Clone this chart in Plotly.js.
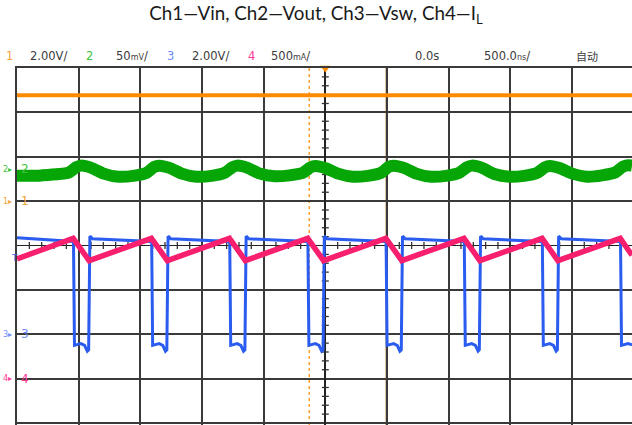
<!DOCTYPE html>
<html><head><meta charset="utf-8">
<script src="https://cdn.plot.ly/plotly-3.0.1.min.js"></script>
<style>html,body{margin:0;padding:0;background:#fff;}#chart{width:632px;height:425px;}</style>
</head><body><div id="chart"></div>
<script>
// ---- channel settings (per division) ----
const chNames   = ['Ch1', 'Ch2', 'Ch3', 'Ch4'];
const chScale   = [2.0, 50, 2.0, 0.5];      // V/div, mV/div, V/div, A/div
const chOffset  = [1.0, 1.72, -2.0, -3.0];  // marker position, divisions
const chColors  = ['#ff8a00', '#06a606', '#2a5cf0', '#f8206e'];
const chLabelColors = ['#f7a33a', '#3cc43c', '#6f8cff', '#ff3d96'];
const headerScales = ['2.00V/', '50<span style="font-size:8px">mV</span>/', '2.00V/', '500<span style="font-size:8px">mA</span>/'];
const timeLabel = '0.0s';
const timebaseLabel = '500.0<span style="font-size:8px">ns</span>/';
const modeLabel = '自动';

// ---- Ch1 Vin (V) ----
const vinT = [-2500, 2487];
const vinV = [4.77, 4.77];

// ---- Ch2 Vout ripple (mV) ----
const voutT = [-2500,-2300,
  -2082,-2022,-1982,-1897,-1797,-1677,-1557,
  -1448,-1388,-1348,-1263,-1163,-1043,-923,
  -815,-755,-715,-630,-530,-410,-290,
  -181,-121,-81,4,104,224,344,
  453,513,553,638,738,858,978,
  1087,1147,1187,1271,1371,1491,1611,
  1720,1780,1820,1904,2004,2124,2244,
  2354,2414,2454,2487];
const voutV = [-7.5,-7.0,
  -4.0,2.0,4.0,1.5,-5.0,-8.5,-7.5,
  -4.0,2.5,4.0,1.5,-5.0,-8.5,-7.5,
  -4.0,2.0,4.0,1.5,-5.0,-8.0,-7.0,
  -4.0,2.0,3.5,1.0,-5.0,-8.5,-7.5,
  -4.0,2.5,4.0,1.5,-5.0,-8.5,-7.5,
  -4.0,2.0,4.0,1.5,-5.5,-8.5,-7.5,
  -4.0,2.0,3.5,1.0,-5.0,-8.5,-7.0,
  -3.5,3.0,4.5,4.0];

// ---- Ch3 Vsw (V) ----
const vswT = [-2500,-2300,
  -2052,-2042,-2034,-2012,-1982,-1952,-1930,-1919,-1909,-1887,
  -1418,-1408,-1400,-1378,-1348,-1318,-1296,-1285,-1275,-1253,
  -785,-775,-767,-745,-715,-685,-663,-652,-642,-620,
  -151,-141,-133,-111,-81,-51,-29,-18,-8,14,
  483,493,501,523,553,583,605,616,626,648,
  1117,1127,1135,1157,1187,1217,1239,1249,1259,1281,
  1750,1760,1768,1790,1820,1850,1872,1882,1892,1914,
  2384,2394,2402,2424,2454,2487];
const vswV = [4.35,4.27,
  4.20,4.18,-0.50,-0.48,-0.42,-0.50,-0.76,-0.70,4.42,4.30,
  4.20,4.18,-0.50,-0.48,-0.42,-0.50,-0.76,-0.70,4.42,4.30,
  4.20,4.18,-0.50,-0.48,-0.42,-0.50,-0.76,-0.70,4.42,4.30,
  4.20,4.18,-0.50,-0.48,-0.42,-0.50,-0.76,-0.70,4.42,4.30,
  4.20,4.18,-0.50,-0.48,-0.42,-0.50,-0.76,-0.70,4.42,4.30,
  4.20,4.18,-0.50,-0.48,-0.42,-0.50,-0.76,-0.70,4.42,4.30,
  4.20,4.18,-0.50,-0.48,-0.42,-0.50,-0.76,-0.70,4.42,4.30,
  4.20,4.18,-0.50,-0.48,-0.42,-0.48];

// ---- Ch4 inductor current IL (A) ----
const ilT = [-2500,-2044,-1915,-1410,-1281,-777,-648,-143,-14,491,620,1125,1253,1758,1886,2392,2487];
const ilV = [1.35,1.58,1.33,1.58,1.33,1.58,1.33,1.58,1.33,1.58,1.33,1.58,1.33,1.58,1.33,1.58,1.39];

// ---- cursors / trigger ----
const cursorT = [-130, 497];
const trigLevelDiv = -1;
const trigMarkerDiv = -0.28;

const toDiv = (vals, ch) => vals.map(v => v / chScale[ch] + chOffset[ch]);

const gridCol = '#3a3a3a';
const traces = [
  {x: vinT, y: toDiv(vinV, 0), mode: 'lines', line: {color: chColors[0], width: 4}, hoverinfo: 'skip'},
  {x: voutT, y: toDiv(voutV, 1), mode: 'lines', line: {color: chColors[1], width: 12, shape: 'spline', smoothing: 0.6}, hoverinfo: 'skip'},
  {x: vswT, y: toDiv(vswV, 2), mode: 'lines', line: {color: chColors[2], width: 3}, hoverinfo: 'skip'},
  {x: ilT, y: toDiv(ilV, 3), mode: 'lines', line: {color: chColors[3], width: 5.5}, hoverinfo: 'skip'}
];

// graticule sub-division ticks on the centre lines (decoration)
const tv = [], th = [];
for (let k = -20; k <= 20; k++) if (k % 5 !== 0) tv.push(k * 0.2);
for (let k = -25; k <= 25; k++) if (k % 5 !== 0) th.push(k * 100);
traces.unshift(
  {x: tv.map(() => 0), y: tv, mode: 'markers', marker: {symbol: 'line-ew', size: 5, line: {color: '#333', width: 1.3}}, hoverinfo: 'skip'},
  {x: th, y: th.map(() => 0), mode: 'markers', marker: {symbol: 'line-ns', size: 5, line: {color: '#333', width: 1.3}}, hoverinfo: 'skip'}
);
traces.push({x: [0], y: [4], mode: 'markers', marker: {symbol: 'triangle-down', size: 9, color: '#ff8a00'}, cliponaxis: false, hoverinfo: 'skip'});

const L = 17, T = 68, W = 632, H = 425;
const px = p => (p - L) / (W - L);
const py = p => (H - p) / (H - T);

const ann = [];
const hdr = (x, text, color, anchor) => ann.push({xref: 'paper', yref: 'paper', x: px(x), y: py(56), text: text, showarrow: false,
  xanchor: anchor || 'left', yanchor: 'middle', font: {family: 'DejaVu Sans', size: 11.5, color: color || '#3c3c3c'}});
hdr(9, '1', chLabelColors[0], 'center');
hdr(28, headerScales[0]);
hdr(89, '2', chLabelColors[1], 'center');
hdr(114, headerScales[1]);
hdr(170, '3', chLabelColors[2], 'center');
hdr(190, headerScales[2]);
hdr(251, '4', chLabelColors[3], 'center');
hdr(269, headerScales[3]);
hdr(413, timeLabel);
hdr(482, timebaseLabel);
ann.push({xref: 'paper', yref: 'paper', x: px(574), y: py(56), text: modeLabel, showarrow: false, xanchor: 'left', yanchor: 'middle',
  font: {family: 'Noto Sans CJK SC', size: 11, color: '#3c3c3c'}});

// channel ground markers on the left
const chMark = (i, label) => {
  ann.push({xref: 'paper', yref: 'y', x: px(1), y: chOffset[i], text: label + '▸', showarrow: false,
    xanchor: 'left', yanchor: 'middle', font: {family: 'DejaVu Sans', size: 8, color: chLabelColors[i]}});
  ann.push({xref: 'paper', yref: 'y', x: px(19), y: chOffset[i], text: label, showarrow: false,
    xanchor: 'left', yanchor: 'middle', font: {family: 'DejaVu Sans', size: 12, color: chLabelColors[i]}});
};
chMark(1, '2'); chMark(0, '1'); chMark(2, '3'); chMark(3, '4');
ann.push({xref: 'paper', yref: 'y', x: px(9), y: trigMarkerDiv, text: 'T', showarrow: false, xanchor: 'left', yanchor: 'middle',
  font: {family: 'DejaVu Sans', size: 9, color: '#4a6cf5'}});

const shapes = [
  {type: 'line', xref: 'x', yref: 'paper', x0: cursorT[0], x1: cursorT[0], y0: 0, y1: 1, layer: 'between', line: {color: '#ffa030', width: 1.5, dash: 'dot'}},
  {type: 'line', xref: 'x', yref: 'paper', x0: cursorT[1], x1: cursorT[1], y0: 0, y1: 1, layer: 'between', line: {color: '#b8701e', width: 2}},
  {type: 'line', xref: 'paper', yref: 'y', x0: 0, x1: 1, y0: trigLevelDiv, y1: trigLevelDiv, layer: 'between', line: {color: '#f39a30', width: 1.6, dash: 'dot'}}
];

const layout = {
  width: W, height: H, autosize: false,
  margin: {l: L, r: 0, t: T, b: 0},
  paper_bgcolor: '#fff', plot_bgcolor: '#fff',
  showlegend: false,
  title: {text: 'Ch1—Vin, Ch2—Vout, Ch3—Vsw, Ch4—I<sub>L</sub>', font: {family: 'Lato', size: 18.8, color: '#1a1a1a'},
    x: 0.5, xref: 'container', xanchor: 'center', y: 1 - 13 / H, yref: 'container', yanchor: 'middle'},
  xaxis: {range: [-2500, 2487], tick0: 0, dtick: 500, showgrid: true, gridcolor: gridCol, gridwidth: 1.8,
    zeroline: true, zerolinecolor: '#222', zerolinewidth: 1.8, showticklabels: false, ticks: '',
    showline: true, linecolor: gridCol, linewidth: 1.8, mirror: true, fixedrange: true},
  yaxis: {range: [-4.045, 4], tick0: 0, dtick: 1, showgrid: true, gridcolor: gridCol, gridwidth: 1.8,
    zeroline: true, zerolinecolor: '#222', zerolinewidth: 1.8, showticklabels: false, ticks: '',
    showline: true, linecolor: gridCol, linewidth: 1.8, mirror: true, fixedrange: true},
  annotations: ann,
  shapes: shapes
};

Plotly.newPlot('chart', traces, layout, {displayModeBar: false, staticPlot: true});
</script></body></html>
